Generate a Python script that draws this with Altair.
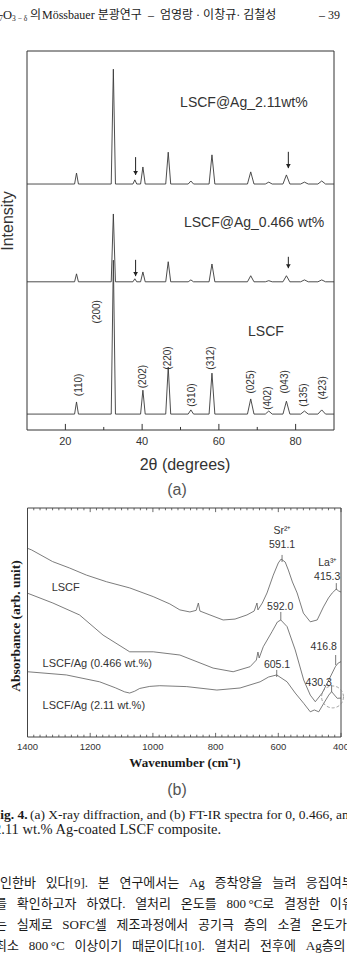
import altair as alt
import pandas as pd

SANS = "'Liberation Sans', Arial, sans-serif"
SERIF = "'Liberation Serif', 'Noto Sans CJK KR', serif"

# ---------------- (a) XRD ----------------
xrd_theta_domain = [10, 90]
xrd_int_domain = [0, 100]
xrd_peak_theta = [22.9, 32.5, 38.1, 40.2, 46.8, 52.7, 58.2, 68.3, 73.0, 77.6, 82.3, 86.8]
xrd_peak_halfwidth = [0.5, 0.55, 0.5, 0.6, 0.65, 0.7, 0.75, 0.85, 0.9, 0.9, 1.0, 1.0]
xrd_series = ["LSCF", "LSCF@Ag_0.466 wt%", "LSCF@Ag_2.11wt%"]
xrd_baseline = [4.2, 39.1, 64.9]
xrd_height_lscf = [3.2, 40.6, 0.0, 6.3, 12.4, 1.1, 10.8, 4.0, 0.8, 3.4, 0.8, 1.1]
xrd_height_0466 = [2.1, 17.9, 0.8, 2.6, 5.3, 0.5, 4.7, 1.6, 0.3, 1.6, 0.5, 0.5]
xrd_height_211 = [2.9, 30.3, 1.1, 4.5, 8.4, 0.8, 7.7, 3.2, 0.5, 2.4, 0.5, 0.8]
xrd_heights = [xrd_height_lscf, xrd_height_0466, xrd_height_211]

xrd_label_theta = [67.6, 50.9, 49.9]
xrd_label_int = [25.9, 54.6, 86.3]

xrd_hkl = ["(110)", "(200)", "(202)", "(220)", "(310)", "(312)", "(025)", "(402)", "(043)", "(135)", "(423)"]
xrd_hkl_theta = [23.55, 28.2, 40.15, 46.75, 52.9, 57.9, 68.3, 72.9, 77.2, 82.2, 87.05]
xrd_hkl_int = [11.9, 31.2, 14.1, 19.0, 9.2, 19.0, 12.7, 8.4, 12.7, 9.2, 11.1]

xrd_arrow_theta = [38.3, 78.1, 38.3, 78.1]
xrd_arrow_top = [72.0, 73.4, 44.9, 45.7]
xrd_arrow_tip = [67.3, 69.1, 40.6, 42.7]

xrd_major_ticks = [20, 40, 60, 80]
xrd_minor_ticks = [30, 50, 70]

# ---------------- (b) FT-IR ----------------
ftir_wn_domain = [400, 1400]
ftir_abs_domain = [0, 100]
lscf_wn = [1400, 1387, 1320, 1266, 1212, 1148, 1074, 999, 946, 914, 882, 862, 855, 850, 818, 776, 738, 700,
           677, 668, 665, 651, 636, 616, 600, 591, 578, 568, 555, 540, 520, 498, 476, 456, 440, 428, 415, 408, 400]
lscf_abs = [82.4, 81.7, 76.6, 73.8, 70.7, 67.8, 65.1, 61.3, 58.1, 55.5, 54.6, 55.3, 58.5, 55.0, 53.3, 51.1, 51.5, 53.3,
            55.0, 58.5, 55.5, 58.5, 62.9, 70.7, 76.0, 77.7, 76.4, 72.9, 67.7, 62.9, 54.1, 50.3, 51.1, 56.8, 60.7, 62.9, 64.6, 63.8, 63.3]
ag0466_wn = [1400, 1319, 1234, 1159, 1074, 999, 914, 808, 744, 690, 670, 665, 661, 648, 620, 603, 592, 572,
             546, 519, 498, 482, 460, 439, 418, 409, 400]
ag0466_abs = [62.8, 58.5, 53.3, 44.5, 37.2, 37.2, 35.8, 30.1, 28.5, 30.7, 33.6, 37.1, 34.5, 39.4, 46.0, 50.2, 51.1, 48.2,
              38.0, 24.9, 18.3, 15.4, 19.2, 24.9, 30.7, 32.3, 32.9]
ag211_wn = [1400, 1276, 1170, 1120, 1090, 1074, 1058, 1042, 1010, 978, 892, 796, 722, 658, 631, 605, 572, 546, 519,
            498, 485, 471, 455, 439, 430, 412, 400]
ag211_abs = [28.5, 27.1, 24.1, 21.5, 19.7, 19.2, 20.0, 21.2, 22.1, 22.4, 22.0, 20.5, 21.4, 24.1, 26.2, 27.1, 24.1, 19.2, 14.7,
             11.0, 11.8, 11.0, 14.7, 18.3, 19.8, 16.9, 17.0]

ftir_label = ["LSCF", "LSCF/Ag (0.466 wt.%)", "LSCF/Ag (2.11 wt.%)"]
ftir_label_wn = [1323, 1352, 1352]
ftir_label_abs = [65.1, 31.9, 13.5]

ftir_note = ["Sr²⁺", "591.1", "La³⁺", "415.3", "592.0", "416.8", "605.1", "430.3"]
ftir_note_wn = [587, 588, 442, 444, 594, 455, 604, 471]
ftir_note_abs = [90.0, 83.8, 76.0, 69.9, 56.9, 39.4, 31.4, 23.4]

ftir_peak_wn = [588, 415, 592, 417, 605, 430]
ftir_peak_top = [79.5, 67.2, 54.6, 35.8, 29.3, 22.7]
ftir_peak_bottom = [76.4, 64.2, 51.1, 31.4, 26.2, 19.7]

ftir_circle_wn = [427]
ftir_circle_abs = [17.5]

ftir_major_ticks = [1400, 1200, 1000, 800, 600, 400]
ftir_minor_ticks = [w for w in range(420, 1400, 20) if w % 200 != 0]

# ---------------- page text ----------------
caption_1 = "(a) X-ray diffraction, and (b) FT-IR spectra for 0, 0.466, and"
caption_2 = "2.11 wt.% Ag-coated LSCF composite."
body_lines = [
    "인한바\u2002 있다[9].\u2002 본\u2002 연구에서는\u2002 Ag\u2002 증착양을\u2002 늘려\u2002 응집여부",
    "를\u2002 확인하고자\u2002 하였다.\u2002 열처리\u2002 온도를\u2002 800\u2009°C로\u2002 결정한\u2002 이유",
    "는\u2002 실제로\u2002 SOFC셀\u2002 제조과정에서\u2002 공기극\u2002 층의\u2002 소결\u2002 온도가",
    "최소\u2002 800\u2009°C\u2002 이상이기\u2002 때문이다[10].\u2002 열처리\u2002 전후에\u2002 Ag층의",
]

# ================= build XRD =================
rows = []
for s, base, hts in zip(xrd_series, xrd_baseline, xrd_heights):
    pts = [(xrd_theta_domain[0], base)]
    for t, hw, h in zip(xrd_peak_theta, xrd_peak_halfwidth, hts):
        if h > 0:
            pts += [(t - hw, base), (t, base + h), (t + hw, base)]
    pts.append((xrd_theta_domain[1], base))
    for i, (t, v) in enumerate(pts):
        rows.append({"series": s, "idx": i, "theta": t, "intensity": v})
xrd_df = pd.DataFrame(rows)

XS = alt.Scale(domain=xrd_theta_domain, range=[27, 334])
YS = alt.Scale(domain=xrd_int_domain, range=[430, 51])

xrd_lines = alt.Chart(xrd_df).mark_line(color="#3a3a3a", strokeWidth=0.9, strokeJoin="round").encode(
    x=alt.X("theta:Q", scale=XS, axis=None),
    y=alt.Y("intensity:Q", scale=YS, axis=None),
    detail="series:N",
    order="idx:Q",
)

xrd_frame_df = pd.DataFrame({"x0": [xrd_theta_domain[0]], "x1": [xrd_theta_domain[1]],
                             "y0": [xrd_int_domain[0]], "y1": [xrd_int_domain[1]]})
xrd_frame = alt.Chart(xrd_frame_df).mark_rect(fillOpacity=0, stroke="#333", strokeWidth=1).encode(
    x=alt.X("x0:Q", scale=XS, axis=None), x2="x1:Q",
    y=alt.Y("y0:Q", scale=YS, axis=None), y2="y1:Q")

xrd_tick_df = pd.DataFrame({"t": xrd_major_ticks + xrd_minor_ticks,
                            "kind": ["major"] * len(xrd_major_ticks) + ["minor"] * len(xrd_minor_ticks)})
xrd_tick_df["y0"] = xrd_int_domain[0]
xrd_tick_df["y1"] = xrd_tick_df["kind"].map({"major": 1.6, "minor": 0.8})
xrd_ticks = alt.Chart(xrd_tick_df).mark_rule(color="#333", strokeWidth=1).encode(
    x=alt.X("t:Q", scale=XS, axis=None),
    y=alt.Y("y0:Q", scale=YS, axis=None), y2="y1:Q")

xrd_ticklab_df = pd.DataFrame({"t": xrd_major_ticks})
xrd_ticklabels = alt.Chart(xrd_ticklab_df).mark_text(align="center", baseline="middle", font=SANS,
                                                     fontSize=11, color="#333").encode(
    x=alt.X("t:Q", scale=XS, axis=None), y=alt.value(442), text=alt.Text("t:Q", format="d"))

xrd_arrow_df = pd.DataFrame({"t": xrd_arrow_theta, "top": xrd_arrow_top, "tip": xrd_arrow_tip})
xrd_arrow_shaft = alt.Chart(xrd_arrow_df).mark_rule(color="#222", strokeWidth=1).encode(
    x=alt.X("t:Q", scale=XS, axis=None),
    y=alt.Y("top:Q", scale=YS, axis=None), y2="tip:Q")
xrd_arrow_head = alt.Chart(xrd_arrow_df).mark_point(shape="triangle-down", filled=True, size=22,
                                                    color="#222", opacity=1, yOffset=-2).encode(
    x=alt.X("t:Q", scale=XS, axis=None),
    y=alt.Y("tip:Q", scale=YS, axis=None))

xrd_lab_df = pd.DataFrame({"txt": xrd_series, "t": xrd_label_theta, "v": xrd_label_int})
xrd_labels = alt.Chart(xrd_lab_df).mark_text(align="left", baseline="middle", font=SANS,
                                             fontSize=14, color="#333").encode(
    x=alt.X("t:Q", scale=XS, axis=None), y=alt.Y("v:Q", scale=YS, axis=None), text="txt:N")

xrd_hkl_df = pd.DataFrame({"txt": xrd_hkl, "t": xrd_hkl_theta, "v": xrd_hkl_int})
xrd_hkl_text = alt.Chart(xrd_hkl_df).mark_text(align="center", baseline="middle", angle=270, font=SANS,
                                               fontSize=10, color="#333").encode(
    x=alt.X("t:Q", scale=XS, axis=None), y=alt.Y("v:Q", scale=YS, axis=None), text="txt:N")

xrd = alt.layer(xrd_lines, xrd_frame, xrd_ticks, xrd_ticklabels, xrd_arrow_shaft, xrd_arrow_head,
                xrd_labels, xrd_hkl_text)

# ================= build FT-IR =================
frows = []
for s, wn, ab in zip(ftir_label, [lscf_wn, ag0466_wn, ag211_wn], [lscf_abs, ag0466_abs, ag211_abs]):
    for i, (w, a) in enumerate(zip(wn, ab)):
        frows.append({"series": s, "idx": i, "wn": w, "abs": a})
ftir_df = pd.DataFrame(frows)

XF = alt.Scale(domain=ftir_wn_domain, range=[341, 27.5])
YF = alt.Scale(domain=ftir_abs_domain, range=[737, 508])

ftir_lines = alt.Chart(ftir_df).mark_line(color="#5a5a5a", strokeWidth=0.8, strokeJoin="round").encode(
    x=alt.X("wn:Q", scale=XF, axis=None),
    y=alt.Y("abs:Q", scale=YF, axis=None),
    detail="series:N",
    order="idx:Q",
)

ftir_frame_df = pd.DataFrame({"x0": [ftir_wn_domain[0]], "x1": [ftir_wn_domain[1]],
                              "y0": [ftir_abs_domain[0]], "y1": [ftir_abs_domain[1]]})
ftir_frame = alt.Chart(ftir_frame_df).mark_rect(fillOpacity=0, stroke="#444", strokeWidth=1).encode(
    x=alt.X("x0:Q", scale=XF, axis=None), x2="x1:Q",
    y=alt.Y("y0:Q", scale=YF, axis=None), y2="y1:Q")

ft_rows = []
for w in ftir_major_ticks + ftir_minor_ticks:
    ln = 1.8 if w in ftir_major_ticks else 1.0
    ft_rows.append({"w": w, "y0": ftir_abs_domain[0], "y1": ftir_abs_domain[0] + ln})
    ft_rows.append({"w": w, "y0": ftir_abs_domain[1], "y1": ftir_abs_domain[1] - ln})
ftir_tick_df = pd.DataFrame(ft_rows)
ftir_ticks = alt.Chart(ftir_tick_df).mark_rule(color="#444", strokeWidth=0.8).encode(
    x=alt.X("w:Q", scale=XF, axis=None),
    y=alt.Y("y0:Q", scale=YF, axis=None), y2="y1:Q")

ftir_ticklab_df = pd.DataFrame({"w": ftir_major_ticks})
ftir_ticklabels = alt.Chart(ftir_ticklab_df).mark_text(align="center", baseline="middle", font=SANS,
                                                       fontSize=9.5, color="#333").encode(
    x=alt.X("w:Q", scale=XF, axis=None), y=alt.value(747), text=alt.Text("w:Q", format="d"))

ftir_lab_df = pd.DataFrame({"txt": ftir_label, "w": ftir_label_wn, "a": ftir_label_abs})
ftir_labels = alt.Chart(ftir_lab_df).mark_text(align="left", baseline="middle", font=SANS,
                                               fontSize=11, color="#333").encode(
    x=alt.X("w:Q", scale=XF, axis=None), y=alt.Y("a:Q", scale=YF, axis=None), text="txt:N")

ftir_note_df = pd.DataFrame({"txt": ftir_note, "w": ftir_note_wn, "a": ftir_note_abs})
ftir_notes = alt.Chart(ftir_note_df).mark_text(align="center", baseline="middle", font=SANS,
                                               fontSize=10.5, color="#333").encode(
    x=alt.X("w:Q", scale=XF, axis=None), y=alt.Y("a:Q", scale=YF, axis=None), text="txt:N")

ftir_peak_df = pd.DataFrame({"w": ftir_peak_wn, "top": ftir_peak_top, "bot": ftir_peak_bottom})
ftir_peaks = alt.Chart(ftir_peak_df).mark_rule(color="#555", strokeWidth=0.8).encode(
    x=alt.X("w:Q", scale=XF, axis=None),
    y=alt.Y("top:Q", scale=YF, axis=None), y2="bot:Q")

ftir_circle_df = pd.DataFrame({"w": ftir_circle_wn, "a": ftir_circle_abs})
ftir_circle = alt.Chart(ftir_circle_df).mark_point(shape="circle", size=480, filled=False, color="#888",
                                                   strokeWidth=0.8, strokeDash=[3, 2], opacity=1).encode(
    x=alt.X("w:Q", scale=XF, axis=None), y=alt.Y("a:Q", scale=YF, axis=None))

ftir = alt.layer(ftir_lines, ftir_frame, ftir_ticks, ftir_ticklabels, ftir_peaks, ftir_circle,
                 ftir_labels, ftir_notes)

# ================= page text =================
page_df = pd.DataFrame({"k": [0]})


def page_text(s, x, y, size, font=SERIF, weight="normal", align="left", angle=0, color="#1a1a1a"):
    return alt.Chart(page_df).mark_text(text=s, fontSize=size, font=font, fontWeight=weight, align=align,
                                        baseline="middle", angle=angle, color=color).encode(
        x=alt.value(x), y=alt.value(y))


texts = [
    # running header
    page_text("7", -1, 19, 8),
    page_text("O", 3, 15, 12.5),
    page_text("3 − δ", 12, 19, 7.5),
    page_text("의", 30, 15, 12),
    page_text("Mössbauer 분광연구", 42, 15, 12),
    page_text("–", 148, 15, 12),
    page_text("엄영랑 · 이창규· 김철성", 160, 15, 12),
    page_text("– 39", 319, 15, 12),
    # (a) titles
    page_text("Intensity", 8, 221, 16, font=SANS, align="center", angle=270, color="#333"),
    page_text("2θ (degrees)", 185, 465, 16, font=SANS, align="center", color="#333"),
    page_text("(a)", 177, 490, 16, font=SANS, align="center", color="#555"),
    # (b) titles
    page_text("Absorbance (arb. unit)", 16, 626, 13.5, weight="bold", align="center", angle=270),
    page_text("Wavenumber (cm⁻¹)", 185, 763, 13, weight="bold", align="center"),
    page_text("(b)", 177, 790, 16, font=SANS, align="center", color="#555"),
    # caption
    page_text("Fig. 4.", -8, 815, 13.5, weight="bold"),
    page_text(caption_1, 30, 815, 13.5),
    page_text(caption_2, -6, 830, 14.5),
    # body text
    page_text(body_lines[0], 0, 883, 13),
    page_text(body_lines[1], -5, 904, 13),
    page_text(body_lines[2], -5, 925, 13),
    page_text(body_lines[3], -5, 946, 13),
]

chart = alt.layer(xrd, ftir, *texts).resolve_scale(x="independent", y="independent").properties(
    width=347, height=967, padding=0, autosize=alt.AutoSizeParams(type="none"), background="white"
).configure_view(stroke=None)

chart.save("out.html", embed_options={"renderer": "svg", "actions": False})
